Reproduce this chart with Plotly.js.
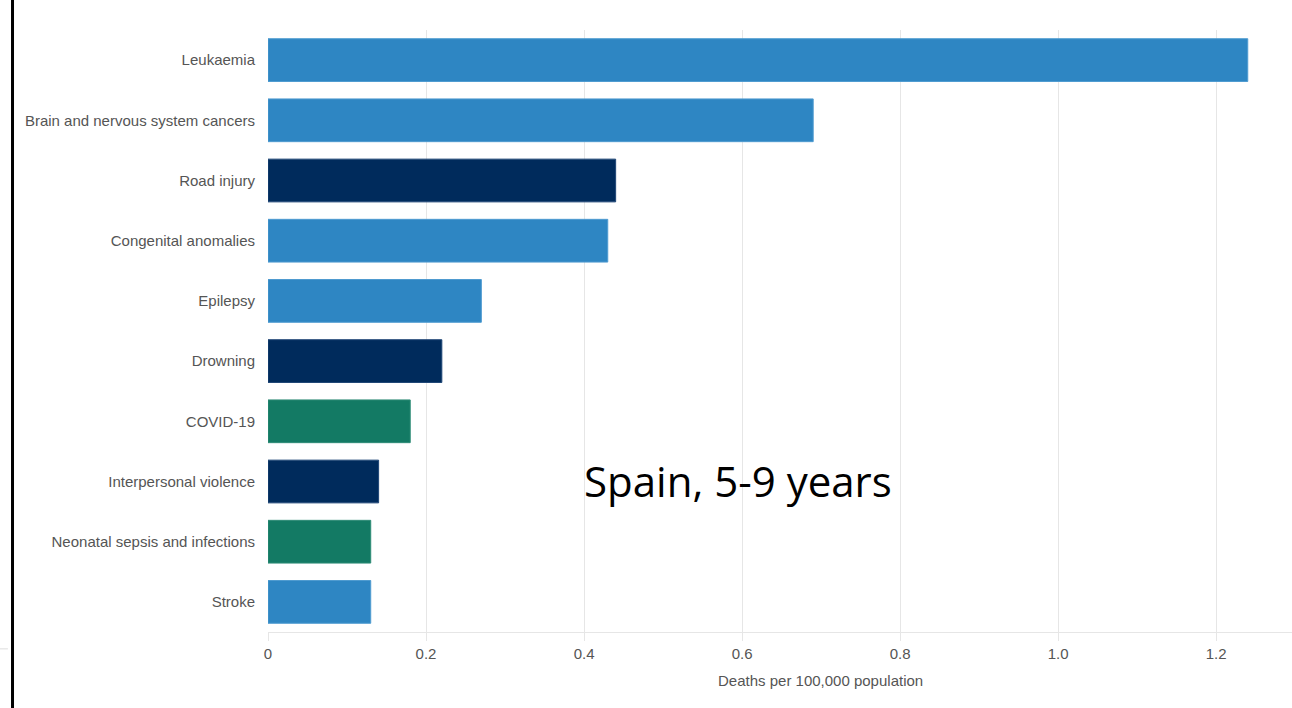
<!DOCTYPE html>
<html>
<head>
<meta charset="utf-8">
<script src="https://cdn.plot.ly/plotly-3.0.1.min.js"></script>
<style>html,body{margin:0;padding:0;background:#fff;}#chart{width:1292px;height:708px;}</style>
</head>
<body>
<div id="chart"></div>
<script>
const causes = ["Leukaemia","Brain and nervous system cancers","Road injury","Congenital anomalies","Epilepsy","Drowning","COVID-19","Interpersonal violence","Neonatal sepsis and infections","Stroke"];
const deaths = [1.24, 0.69, 0.44, 0.43, 0.27, 0.22, 0.18, 0.14, 0.13, 0.13];
const groups = ["ncd","ncd","injury","ncd","ncd","injury","communicable","injury","communicable","ncd"];
const xTicks = [0, 0.2, 0.4, 0.6, 0.8, 1.0, 1.2];
const xTickLabels = ["0","0.2","0.4","0.6","0.8","1.0","1.2"];

const groupColor = {ncd:"#2e86c3", injury:"#002b5c", communicable:"#137a64"};
const groupLine = {ncd:"#4f9bd0", injury:"#1f4676", communicable:"#2f8c77"};

const trace = {
  type: "bar",
  orientation: "h",
  x: deaths,
  y: causes,
  marker: {
    color: groups.map(g => groupColor[g]),
    line: {color: groups.map(g => groupLine[g]), width: 1}
  },
  width: 0.71,
  hoverinfo: "x+y"
};

const layout = {
  width: 1292, height: 708,
  margin: {l: 268, r: 0, t: 30, b: 76},
  paper_bgcolor: "#fff", plot_bgcolor: "#fff",
  font: {family: "Liberation Sans, Arial, sans-serif", size: 15, color: "#555"},
  showlegend: false,
  xaxis: {
    range: [0, 1.296],
    tickvals: xTicks, ticktext: xTickLabels,
    showgrid: true, gridcolor: "#e6e6e6", gridwidth: 1,
    zeroline: false,
    showline: true, linecolor: "#e6e6e6", linewidth: 1,
    ticks: "outside", ticklen: 8, tickcolor: "#e6e6e6",
    tickfont: {size: 15, color: "#555"},
    fixedrange: true
  },
  yaxis: {
    type: "category",
    autorange: "reversed",
    showgrid: false, zeroline: false, showline: false,
    ticks: "", ticklabelstandoff: 12,
    tickfont: {size: 15, color: "#555"},
    fixedrange: true
  },
  annotations: [
    {text: "Deaths per 100,000 population", xref: "paper", yref: "paper",
     x: 0.54, y: 0, yshift: -48, xanchor: "center", yanchor: "middle",
     showarrow: false, font: {size: 15, color: "#555"}},
    {text: "Spain, 5-9 years", xref: "paper", yref: "paper",
     x: 0.459, y: 0.251, xanchor: "center", yanchor: "middle",
     showarrow: false, font: {family: "Open Sans, sans-serif", size: 42, color: "#000"}}
  ],
  shapes: [
    {type: "line", xref: "paper", yref: "paper", x0: -0.2495, x1: -0.2495, y0: -0.2, y1: 1.1,
     line: {color: "#000", width: 3}},
    {type: "line", xref: "paper", yref: "paper", x0: -0.262, x1: -0.254, y0: -0.028, y1: -0.028,
     line: {color: "#ddd", width: 1}}
  ]
};

Plotly.newPlot("chart", [trace], layout, {displayModeBar: false, staticPlot: true});
</script>
</body>
</html>
